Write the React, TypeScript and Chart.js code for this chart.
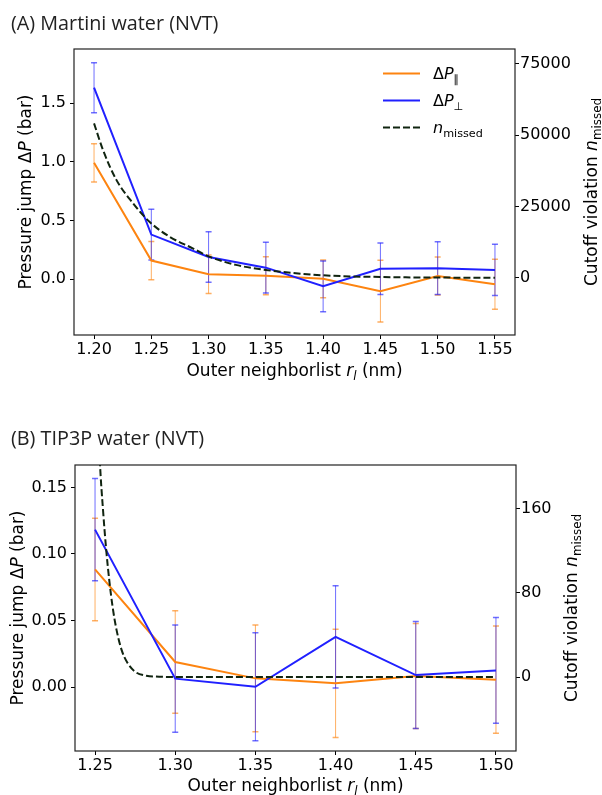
import React, { useEffect, useRef } from 'react';
import { Chart, registerables } from 'chart.js';
Chart.register(...registerables);

const W = 602;
const H = 795;

// ---------- Panel A data (Martini water) ----------
const xA = [1.2, 1.25, 1.3, 1.35, 1.4, 1.45, 1.5, 1.55];
const parA = [0.993, 0.16, 0.043, 0.031, 0.004, -0.101, 0.028, -0.043];
const parAErr = [0.163, 0.163, 0.164, 0.162, 0.161, 0.263, 0.162, 0.213];
const perpA = [1.633, 0.381, 0.19, 0.099, -0.06, 0.09, 0.095, 0.08];
const perpAErr = [0.213, 0.216, 0.216, 0.217, 0.216, 0.22, 0.225, 0.218];
const missAx = [1.2, 1.2078, 1.2195, 1.234, 1.2484, 1.2658, 1.2861, 1.3005, 1.3238, 1.35, 1.4, 1.45, 1.5, 1.55];
const missAy = [54100, 44800, 34300, 26100, 19600, 14400, 10300, 7400, 4500, 2700, 840, 250, 50, 0];
const xTicksA = [1.2, 1.25, 1.3, 1.35, 1.4, 1.45, 1.5, 1.55];
const yTicksA = [0, 0.5, 1.0, 1.5];
const y2TicksA = [0, 25000, 50000, 75000];

// ---------- Panel B data (TIP3P water) ----------
const xB = [1.25, 1.3, 1.35, 1.4, 1.45, 1.5];
const parB = [0.0884, 0.0188, 0.0065, 0.0028, 0.0083, 0.0055];
const parBErr = [0.0385, 0.0386, 0.0401, 0.0407, 0.0395, 0.0403];
const perpB = [0.1183, 0.0063, 0.0002, 0.0377, 0.009, 0.0125];
const perpBErr = [0.0384, 0.0403, 0.0406, 0.0385, 0.0402, 0.0397];
const missBx = [1.25, 1.253, 1.255, 1.257, 1.259, 1.261, 1.2635, 1.2665, 1.27, 1.275, 1.282, 1.29, 1.3, 1.35, 1.4, 1.45, 1.5];
const missBy = [330, 205, 158, 120, 90, 66, 44, 26, 14, 5, 1.2, 0.3, 0, 0, 0, 0, 0];
const xTicksB = [1.25, 1.3, 1.35, 1.4, 1.45, 1.5];
const yTicksB = [0, 0.05, 0.1, 0.15];
const y2TicksB = [0, 80, 160];

const ORANGE = '#fd8410';
const BLUE = '#2020ff';
const DASH = '#102410';
const ORANGE_ERR = 'rgba(253,132,16,0.65)';
const BLUE_ERR = 'rgba(32,32,255,0.65)';

const FONT = '"DejaVu Sans"';
const TITLE_FONT = '"Open Sans"';
const LABEL_SIZE = 17;

type Seg = { t: string; it?: boolean; sub?: boolean };

function drawRich(ctx: CanvasRenderingContext2D, segs: Seg[], x: number, y: number, size: number, align: 'center' | 'left', rot = 0) {
  ctx.save();
  ctx.translate(x, y);
  ctx.rotate(rot);
  const fontOf = (s: Seg) => `${s.it ? 'italic ' : ''}${s.sub ? size * 0.7 : size}px ${FONT}`;
  const widths = segs.map((s) => {
    ctx.font = fontOf(s);
    return ctx.measureText(s.t).width;
  });
  const total = widths.reduce((a, b) => a + b, 0);
  let cx = align === 'center' ? -total / 2 : 0;
  ctx.textBaseline = 'alphabetic';
  ctx.textAlign = 'left';
  ctx.fillStyle = '#000';
  segs.forEach((s, i) => {
    ctx.font = fontOf(s);
    ctx.fillText(s.t, cx, s.sub ? size * 0.24 : 0);
    cx += widths[i];
  });
  ctx.restore();
}

interface PanelCfg {
  area: { left: number; right: number; top: number; bottom: number };
  xMin: number; xMax: number; xTicks: number[];
  yMin: number; yMax: number; yTicks: number[]; yDigits: number;
  y2Min: number; y2Max: number; y2Ticks: number[];
  x: number[]; par: number[]; parErr: number[]; perp: number[]; perpErr: number[];
  mx: number[]; my: number[];
  title: string; titleY: number;
  leftTitleX: number; rightTitleX: number; xTitleY: number;
  legend: boolean;
}

const panelA: PanelCfg = {
  area: { left: 74, right: 515, top: 49, bottom: 335 },
  xMin: 1.1825, xMax: 1.5675, xTicks: xTicksA,
  yMin: -0.475, yMax: 1.963, yTicks: yTicksA, yDigits: 1,
  y2Min: -20090, y2Max: 80190, y2Ticks: y2TicksA,
  x: xA, par: parA, parErr: parAErr, perp: perpA, perpErr: perpAErr,
  mx: missAx, my: missAy,
  title: '(A) Martini water (NVT)', titleY: 30,
  leftTitleX: 31, rightTitleX: 597, xTitleY: 376,
  legend: true,
};

const panelB: PanelCfg = {
  area: { left: 75, right: 516, top: 465, bottom: 751 },
  xMin: 1.2375, xMax: 1.5125, xTicks: xTicksB,
  yMin: -0.0481, yMax: 0.1669, yTicks: yTicksB, yDigits: 2,
  y2Min: -70.2, y2Max: 201.2, y2Ticks: y2TicksB,
  x: xB, par: parB, parErr: parBErr, perp: perpB, perpErr: perpBErr,
  mx: missBx, my: missBy,
  title: '(B) TIP3P water (NVT)', titleY: 445,
  leftTitleX: 23, rightTitleX: 577, xTitleY: 791,
  legend: false,
};

function makePlugin(cfg: PanelCfg) {
  const drawErr = (chart: any, vals: number[], errs: number[], color: string) => {
    const ctx: CanvasRenderingContext2D = chart.ctx;
    const xs = chart.scales.x;
    const ys = chart.scales.y;
    ctx.save();
    ctx.strokeStyle = color;
    cfg.x.forEach((xv, i) => {
      const px = xs.getPixelForValue(xv);
      const p1 = ys.getPixelForValue(vals[i] + errs[i]);
      const p2 = ys.getPixelForValue(vals[i] - errs[i]);
      ctx.lineWidth = 1;
      ctx.beginPath();
      ctx.moveTo(px, p1);
      ctx.lineTo(px, p2);
      ctx.stroke();
      ctx.lineWidth = 1.5;
      ctx.beginPath();
      ctx.moveTo(px - 3, p1);
      ctx.lineTo(px + 3, p1);
      ctx.moveTo(px - 3, p2);
      ctx.lineTo(px + 3, p2);
      ctx.stroke();
    });
    ctx.restore();
  };
  return {
    id: 'panelDecor',
    beforeDatasetsDraw(chart: any) {
      const ca = chart.chartArea;
      const ctx: CanvasRenderingContext2D = chart.ctx;
      ctx.save();
      ctx.beginPath();
      ctx.rect(ca.left, ca.top, ca.right - ca.left, ca.bottom - ca.top);
      ctx.clip();
      drawErr(chart, cfg.par, cfg.parErr, ORANGE_ERR);
      drawErr(chart, cfg.perp, cfg.perpErr, BLUE_ERR);
      ctx.restore();
    },
    afterDraw(chart: any) {
      const ctx: CanvasRenderingContext2D = chart.ctx;
      const ca = chart.chartArea;
      ctx.save();
      ctx.strokeStyle = '#222';
      ctx.lineWidth = 1.2;
      ctx.strokeRect(ca.left, ca.top, ca.right - ca.left, ca.bottom - ca.top);
      ctx.restore();
      // panel title
      ctx.save();
      ctx.font = `19.8px ${TITLE_FONT}`;
      ctx.fillStyle = '#222';
      ctx.textAlign = 'left';
      ctx.textBaseline = 'alphabetic';
      ctx.fillText(cfg.title, 11, cfg.titleY);
      ctx.restore();
      const cy = (ca.top + ca.bottom) / 2;
      const cx = (ca.left + ca.right) / 2;
      drawRich(ctx, [{ t: 'Pressure jump Δ' }, { t: 'P', it: true }, { t: ' (bar)' }], cfg.leftTitleX, cy, LABEL_SIZE, 'center', -Math.PI / 2);
      drawRich(ctx, [{ t: 'Cutoff violation ' }, { t: 'n', it: true }, { t: 'missed', sub: true }], cfg.rightTitleX, cy, LABEL_SIZE, 'center', -Math.PI / 2);
      drawRich(ctx, [{ t: 'Outer neighborlist ' }, { t: 'r', it: true }, { t: 'l', it: true, sub: true }, { t: ' (nm)' }], cx, cfg.xTitleY, LABEL_SIZE, 'center');
      if (cfg.legend) {
        const rows: { color: string; dash: number[]; segs: Seg[] }[] = [
          { color: ORANGE, dash: [], segs: [{ t: 'Δ' }, { t: 'P', it: true }, { t: '∥', sub: true }] },
          { color: BLUE, dash: [], segs: [{ t: 'Δ' }, { t: 'P', it: true }, { t: '⊥', sub: true }] },
          { color: DASH, dash: [7, 3], segs: [{ t: 'n', it: true }, { t: 'missed', sub: true }] },
        ];
        const ys = [73.5, 100.5, 127.5];
        rows.forEach((r, i) => {
          ctx.save();
          ctx.strokeStyle = r.color;
          ctx.lineWidth = 2;
          ctx.setLineDash(r.dash);
          ctx.beginPath();
          ctx.moveTo(383, ys[i]);
          ctx.lineTo(420, ys[i]);
          ctx.stroke();
          ctx.restore();
          drawRich(ctx, r.segs, 433, ys[i] + 5.5, 16, 'left');
        });
      }
    },
  };
}

function makeConfig(cfg: PanelCfg): any {
  const a = cfg.area;
  const pts = (xs: number[], ys: number[]) => xs.map((x, i) => ({ x, y: ys[i] }));
  const tickFont = { family: 'DejaVu Sans', size: 16 };
  const grid = { drawOnChartArea: false, drawTicks: true, tickLength: 4, color: '#000', lineWidth: 1 };
  return {
    type: 'line',
    data: {
      datasets: [
        {
          data: pts(cfg.mx, cfg.my), yAxisID: 'y2', borderColor: DASH, borderWidth: 2,
          borderDash: [7, 3], pointRadius: 0, cubicInterpolationMode: 'monotone', order: 0, fill: false,
        },
        {
          data: pts(cfg.x, cfg.perp), yAxisID: 'y', borderColor: BLUE, borderWidth: 2,
          pointRadius: 0, tension: 0, order: 1, fill: false,
        },
        {
          data: pts(cfg.x, cfg.par), yAxisID: 'y', borderColor: ORANGE, borderWidth: 2,
          pointRadius: 0, tension: 0, order: 2, fill: false,
        },
      ],
    },
    options: {
      animation: false,
      responsive: false,
      devicePixelRatio: 1,
      layout: { padding: { top: a.top, left: 0, right: 0, bottom: 0 } },
      plugins: { legend: { display: false }, tooltip: { enabled: false }, title: { display: false } },
      scales: {
        x: {
          type: 'linear', position: 'bottom', min: cfg.xMin, max: cfg.xMax,
          afterBuildTicks: (ax: any) => { ax.ticks = cfg.xTicks.map((v) => ({ value: v })); },
          afterFit: (ax: any) => { ax.height = H - a.bottom; },
          ticks: { callback: (v: number) => v.toFixed(2), font: tickFont, color: '#000', padding: 1, autoSkip: false, maxRotation: 0, minRotation: 0 },
          grid, border: { display: false },
        },
        y: {
          type: 'linear', position: 'left', min: cfg.yMin, max: cfg.yMax,
          afterBuildTicks: (ax: any) => { ax.ticks = cfg.yTicks.map((v) => ({ value: v })); },
          afterFit: (ax: any) => { ax.width = a.left; },
          ticks: { callback: (v: number) => v.toFixed(cfg.yDigits), font: tickFont, color: '#000', padding: 4 },
          grid, border: { display: false },
        },
        y2: {
          type: 'linear', position: 'right', min: cfg.y2Min, max: cfg.y2Max,
          afterBuildTicks: (ax: any) => { ax.ticks = cfg.y2Ticks.map((v) => ({ value: v })); },
          afterFit: (ax: any) => { ax.width = W - a.right; },
          ticks: { callback: (v: number) => String(v), font: tickFont, color: '#000', padding: 1 },
          grid, border: { display: false },
        },
      },
    },
    plugins: [makePlugin(cfg)],
  };
}

export default function App() {
  const refA = useRef<HTMLCanvasElement>(null);
  const refB = useRef<HTMLCanvasElement>(null);
  useEffect(() => {
    document.body.style.margin = '0';
    const ca = new Chart(refA.current as HTMLCanvasElement, makeConfig(panelA));
    const cb = new Chart(refB.current as HTMLCanvasElement, makeConfig(panelB));
    return () => {
      ca.destroy();
      cb.destroy();
    };
  }, []);
  const cs: React.CSSProperties = { position: 'absolute', left: 0, top: 0, width: W, height: H };
  return (
    <div style={{ position: 'relative', width: W, height: H, background: '#fff', overflow: 'hidden' }}>
      <canvas ref={refA} width={W} height={H} style={cs} />
      <canvas ref={refB} width={W} height={H} style={cs} />
    </div>
  );
}
